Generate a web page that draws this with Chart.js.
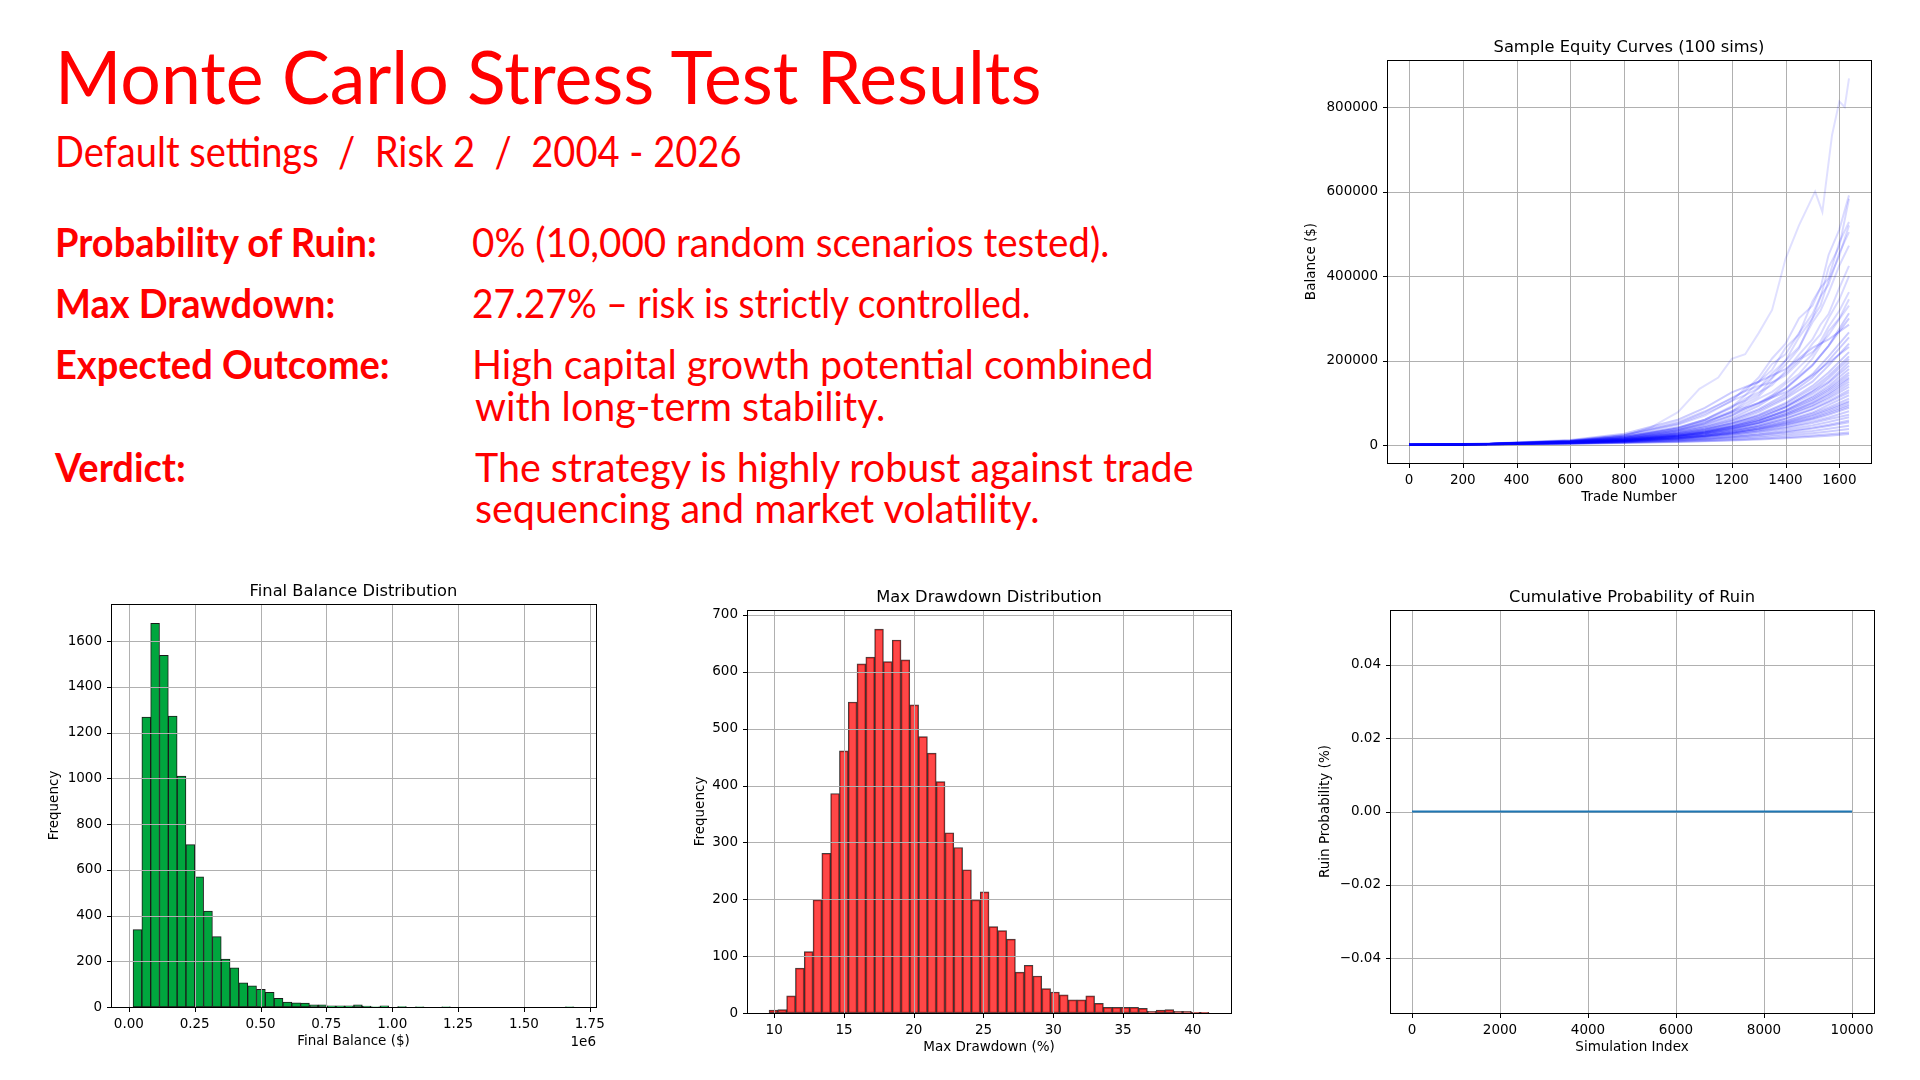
<!DOCTYPE html>
<html>
<head>
<meta charset="utf-8">
<script src="https://cdn.jsdelivr.net/npm/chart.js@4.4.1/dist/chart.umd.min.js"></script>
<style>
  html, body { margin: 0; padding: 0; background: #fff; }
  body { width: 1920px; height: 1080px; position: relative; overflow: hidden; font-family: Lato, sans-serif; color: #ff0000; }
  .t { position: absolute; white-space: nowrap; line-height: 1; transform-origin: 0 0; }
  #title { left: 55px; top: 39px; font-size: 74px; transform: scaleX(0.967); }
  #sub { left: 55px; top: 130px; font-size: 42px; transform: scaleX(0.906); }
  .lab { left: 55px; font-size: 40px; font-weight: 700; transform: scaleX(0.95); }
  .val { left: 472px; font-size: 40px; transform: scaleX(0.985); }
  .val2 { left: 475px; font-size: 40px; transform: scaleX(0.985); }
  canvas { position: absolute; }
</style>
</head>
<body>
<div class="t" id="title">Monte Carlo Stress Test Results</div>
<div class="t" id="sub">Default settings &nbsp;/&nbsp; Risk 2 &nbsp;/&nbsp; 2004 - 2026</div>

<div class="t lab" style="top:222px">Probability of Ruin:</div>
<div class="t val" style="top:222px; transform: scaleX(0.965)">0% (10,000 random scenarios tested).</div>
<div class="t lab" style="top:283px">Max Drawdown:</div>
<div class="t val" style="top:283px; transform: scaleX(0.928)">27.27% – risk is strictly controlled.</div>
<div class="t lab" style="top:344px">Expected Outcome:</div>
<div class="t val" style="top:344px">High capital growth potential combined</div>
<div class="t val2" style="top:386px">with long-term stability.</div>
<div class="t lab" style="top:447px">Verdict:</div>
<div class="t val2" style="top:447px">The strategy is highly robust against trade</div>
<div class="t val2" style="top:488px">sequencing and market volatility.</div>

<canvas id="equity"></canvas>
<canvas id="finalBal"></canvas>
<canvas id="drawdown"></canvas>
<canvas id="ruin"></canvas>

<script>
// ---- data ----
// the best curve, read in more detail (balance in thousands of $)
const TOP_TRADES = [0, 300, 600, 800, 900, 1000, 1080, 1150, 1200, 1250, 1300, 1350, 1400, 1450, 1510, 1537, 1573, 1600, 1620, 1636];
const TOP_K = [1, 2.5, 8, 22, 42, 78, 133, 160, 204, 215, 265, 320, 441, 520, 600, 552, 734, 813, 800, 868];

// upper curves, read at more trade numbers
const DETAIL_TRADES = [0, 300, 600, 800, 1000, 1100, 1200, 1250, 1300, 1350, 1400, 1450, 1500, 1530, 1560, 1600, 1636];
const EQUITY_DETAIL_K = [
  [1, 3, 10, 22, 48, 70, 105, 118, 150, 178, 230, 262, 340, 372, 450, 510, 591],
  [1, 2.5, 8, 16, 35, 52, 80, 104, 120, 158, 190, 228, 300, 350, 420, 470, 583],
  [1, 3.2, 11, 24, 52, 78, 112, 128, 160, 205, 240, 300, 330, 372, 395, 480, 528],
  [1, 2.8, 9, 19, 42, 60, 90, 118, 135, 160, 200, 255, 300, 330, 390, 448, 520],
  [1, 3.3, 10.5, 23, 50, 74, 104, 135, 150, 192, 215, 265, 310, 352, 380, 455, 504],
  [1, 3, 9, 19, 40, 60, 92, 105, 135, 170, 200, 232, 290, 318, 360, 425, 472],
  [1, 3, 9.5, 20, 42, 60, 88, 110, 125, 142, 175, 214, 250, 285, 310, 372, 424],
  [1, 3, 8.5, 18, 36, 52, 78, 98, 115, 148, 165, 196, 240, 262, 300, 345, 400],
  [1, 3.1, 9.4, 19.5, 40, 57, 80, 92, 110, 126, 150, 184, 215, 245, 280, 318, 362],
  [1, 2.8, 8.2, 17, 34, 48, 70, 88, 100, 118, 145, 168, 205, 236, 270, 300, 345],
  [1, 3.4, 11, 24, 55, 80, 110, 128, 140, 148, 170, 202, 220, 238, 260, 298, 330]
];

// the other sample curves
const TRADES = [0, 300, 600, 800, 1000, 1100, 1200, 1300, 1400, 1500, 1560, 1636];
const EQUITY_K = [
  [1, 2.9, 8.4, 17, 35, 50, 70, 98, 135, 190, 235, 312],
  [1, 2.8, 8, 16, 32, 45, 64, 93, 133, 188, 235, 300],
  [1, 3.6, 12, 27, 60, 88, 125, 150, 180, 230, 250, 285],
  [1, 2.8, 7.9, 15.6, 31, 43, 60, 85, 120, 168, 210, 267],
  [1, 2.8, 7.7, 15, 30, 42, 58, 82, 114, 160, 200, 255],
  [1, 2.7, 7.4, 14.5, 28, 39, 55, 78, 110, 150, 188, 240],
  [1, 3.2, 9.5, 19, 38, 55, 76, 100, 125, 165, 195, 232],
  [1, 2.7, 7.2, 14, 27, 37, 52, 72, 100, 140, 172, 220],
  [1, 2.66, 7.1, 13.7, 26, 36, 50, 70, 97, 134, 164, 210],
  [1, 2.4, 6.3, 12, 23, 32, 45, 64, 90, 128, 158, 204],
  [1, 2.9, 7.8, 15, 28, 38, 51, 68, 92, 126, 150, 196],
  [1, 2.6, 6.8, 12.9, 24.5, 33.8, 46.5, 64, 89, 121, 147, 188],
  [1, 2.5, 6.4, 12, 22, 30, 42, 58, 82, 115, 140, 180],
  [1, 2.57, 6.6, 12.4, 23.2, 31.8, 43.6, 60, 82, 112, 135, 172],
  [1, 2.8, 7.2, 13.5, 25, 33, 44, 59, 80, 108, 131, 166],
  [1, 2.53, 6.45, 12, 22.2, 30.3, 41.3, 56.4, 77, 105, 127, 160],
  [1, 2.4, 6, 11, 20, 27.5, 38, 53, 73, 100, 122, 156],
  [1, 2.5, 6.3, 11.6, 21.3, 29, 39.4, 53.5, 73, 99, 119, 150],
  [1, 2.6, 6.6, 12, 22, 29.5, 39, 52, 70, 94, 114, 144],
  [1, 2.46, 6.1, 11.1, 20.3, 27.5, 37.2, 50.5, 68, 92, 110, 138],
  [1, 2.3, 5.6, 10, 18.5, 25, 34, 46, 63, 86, 104, 130],
  [1, 2.42, 5.9, 10.6, 19.1, 25.7, 34.5, 46.5, 62.6, 84, 101, 125],
  [1, 2.6, 6.2, 11, 19.5, 25.5, 33.5, 44, 58, 77, 95, 118],
  [1, 2.37, 5.6, 9.95, 17.7, 23.6, 31.4, 42, 56, 74.4, 89, 110],
  [1, 2.2, 5.2, 9.2, 16.5, 22, 29.5, 40, 53.5, 71, 85, 104],
  [1, 2.33, 5.4, 9.5, 16.8, 22.2, 29.4, 39.2, 52, 68.8, 81.9, 101],
  [1, 2.4, 5.6, 9.8, 17, 22.3, 29, 38, 50, 65, 78, 96],
  [1, 2.29, 5.26, 9.1, 15.8, 20.9, 27.5, 36.4, 48, 63, 74.7, 92],
  [1, 2.27, 5.17, 8.9, 15.4, 20.3, 26.6, 35.1, 46.1, 60.6, 71.6, 88],
  [1, 2.23, 5, 8.5, 14.5, 19, 24.8, 32.5, 42.5, 55.6, 65.4, 80],
  [1, 2.3, 5.1, 8.6, 14.6, 19, 24.5, 31.5, 40.5, 52, 61, 72],
  [1, 2.15, 4.65, 7.8, 12.9, 16.7, 21.6, 28, 36.2, 46.7, 54.6, 66],
  [1, 2.1, 4.44, 7.3, 11.9, 15.3, 19.6, 25.2, 32.3, 41.5, 48.3, 58],
  [1, 2.07, 4.33, 7, 11.4, 14.6, 18.6, 23.8, 30.5, 39, 45.2, 54],
  [1, 2.01, 4.08, 6.5, 10.4, 13.1, 16.6, 21, 26.6, 33.6, 38.7, 46],
  [1, 1.95, 3.8, 5.9, 9.2, 11.5, 14.4, 18, 22.5, 28.1, 32.2, 38],
  [1, 1.86, 3.48, 5.3, 8, 9.8, 12.1, 14.9, 18.4, 22.6, 25.6, 30],
  [1, 1.81, 3.3, 4.9, 7.3, 8.9, 10.9, 13.4, 16.3, 19.9, 22.4, 26]
];
const EQ_X_TICKS = [0, 200, 400, 600, 800, 1000, 1200, 1400, 1600];
const EQ_Y_TICKS = [0, 200000, 400000, 600000, 800000];

// final balance histogram (50 bins)
const FB_BIN_START = 16000;
const FB_BIN_WIDTH = 33480;
const FB_COUNTS = [338, 1268, 1678, 1538, 1272, 1010, 710, 569, 419, 308,
  210, 171, 106, 93, 77, 64, 38, 22, 18, 17,
  9, 9, 5, 5, 5, 9, 4, 1, 5, 0,
  2, 0, 1, 0, 0, 1, 0, 0, 0, 0,
  0, 0, 0, 0, 0, 0, 0, 0, 0, 1];
const FB_X_TICKS = [0, 250000, 500000, 750000, 1000000, 1250000, 1500000, 1750000];
const FB_Y_TICKS = [0, 200, 400, 600, 800, 1000, 1200, 1400, 1600];

// max drawdown histogram (50 bins)
const DD_BIN_START = 9.63;
const DD_BIN_WIDTH = 0.6306;
const DD_COUNTS = [5, 6, 30, 79, 108, 199, 281, 386, 461, 547,
  614, 626, 675, 618, 656, 621, 542, 486, 457, 407,
  317, 291, 252, 199, 213, 152, 145, 130, 72, 84,
  65, 43, 37, 32, 23, 23, 30, 17, 10, 10,
  10, 10, 8, 3, 5, 6, 3, 3, 1, 1];
const DD_X_TICKS = [10, 15, 20, 25, 30, 35, 40];
const DD_Y_TICKS = [0, 100, 200, 300, 400, 500, 600, 700];

// cumulative probability of ruin
const RUIN_INDEX = [0, 1000, 2000, 3000, 4000, 5000, 6000, 7000, 8000, 9000, 9999];
const RUIN_PROB = [0, 0, 0, 0, 0, 0, 0, 0, 0, 0, 0];
const RUIN_X_TICKS = [0, 2000, 4000, 6000, 8000, 10000];
const RUIN_Y_TICKS = [-0.04, -0.02, 0, 0.02, 0.04];

// ---- matplotlib-like axes ----
const MPL_FONT = 'DejaVu Sans';
const TITLE_H = 30;
const XAXIS_H = 43;
const PAD_RIGHT = 24;

function drawGrid(chart) {
  const { ctx, chartArea: ca, scales: { x, y } } = chart;
  ctx.save();
  ctx.beginPath();
  ctx.rect(ca.left, ca.top, ca.width, ca.height);
  ctx.clip();
  ctx.strokeStyle = '#b0b0b0';
  ctx.lineWidth = 1;
  ctx.beginPath();
  x.ticks.forEach(t => {
    const px = Math.round(x.getPixelForValue(t.value)) + 0.5;
    ctx.moveTo(px, ca.top); ctx.lineTo(px, ca.bottom);
  });
  y.ticks.forEach(t => {
    const py = Math.round(y.getPixelForValue(t.value)) + 0.5;
    ctx.moveTo(ca.left, py); ctx.lineTo(ca.right, py);
  });
  ctx.stroke();
  ctx.restore();
}

function drawFrame(chart, opts) {
  const { ctx, chartArea: ca, scales: { x, y } } = chart;
  const l = Math.round(ca.left) + 0.5, r = Math.round(ca.right) + 0.5;
  const t = Math.round(ca.top) + 0.5, b = Math.round(ca.bottom) + 0.5;
  ctx.save();
  ctx.strokeStyle = '#000';
  ctx.lineWidth = 1;
  ctx.strokeRect(l, t, r - l, b - t);
  ctx.beginPath();
  x.ticks.forEach(tk => {
    const px = Math.round(x.getPixelForValue(tk.value)) + 0.5;
    ctx.moveTo(px, b); ctx.lineTo(px, b + 4.5);
  });
  y.ticks.forEach(tk => {
    const py = Math.round(y.getPixelForValue(tk.value)) + 0.5;
    ctx.moveTo(l, py); ctx.lineTo(l - 4.5, py);
  });
  ctx.stroke();
  ctx.fillStyle = '#000';
  ctx.textBaseline = 'middle';
  // axes title, centred over the plot area like matplotlib
  ctx.font = '16.3px "' + MPL_FONT + '"';
  ctx.textAlign = 'center';
  ctx.fillText(opts.title, (ca.left + ca.right) / 2, ca.top - 12.5);
  if (opts.offsetText) {
    ctx.font = '13.5px "' + MPL_FONT + '"';
    ctx.textAlign = 'right';
    ctx.fillText(opts.offsetText, ca.right, ca.bottom + 35);
  }
  ctx.restore();
}

const mplAxes = {
  id: 'mplAxes',
  beforeDatasetsDraw(chart, args, opts) { if (!opts.gridOnTop) drawGrid(chart); },
  afterDatasetsDraw(chart, args, opts) {
    if (opts.gridOnTop) drawGrid(chart);
    drawFrame(chart, opts);
  }
};

function axis(min, max, tickValues, fmt, label, size) {
  return {
    type: 'linear', min: min, max: max, offset: false,
    grid: { display: false, drawTicks: false }, border: { display: false },
    afterBuildTicks: s => { s.ticks = tickValues.map(v => ({ value: v })); },
    afterFit: s => { if (s.isHorizontal()) s.height = size; else s.width = size; },
    ticks: { color: '#000', font: { family: MPL_FONT, size: 13.5 }, padding: 9,
      autoSkip: false, maxRotation: 0, callback: fmt },
    title: { display: true, text: label, color: '#000', font: { family: MPL_FONT, size: 13.5 }, padding: 0 }
  };
}

function place(id, rect, yw) {
  const c = document.getElementById(id);
  const w = yw + (rect.r - rect.l) + PAD_RIGHT;
  const h = TITLE_H + (rect.b - rect.t) + XAXIS_H;
  c.width = w; c.height = h;
  c.style.left = (rect.l - yw) + 'px';
  c.style.top = (rect.t - TITLE_H) + 'px';
  return c;
}

function baseOptions(xAxis, yAxis, axOpts) {
  return {
    responsive: false, animation: false, devicePixelRatio: 1,
    layout: { padding: { left: 0, right: PAD_RIGHT, top: TITLE_H, bottom: 0 } },
    plugins: { legend: { display: false }, tooltip: { enabled: false }, title: { display: false }, mplAxes: axOpts },
    scales: { x: xAxis, y: yAxis }
  };
}

const plain = v => String(v);
const minus = v => (v < 0 ? '\u2212' + Math.abs(v).toFixed(2) : v.toFixed(2));
const EQ_LINE = { borderColor: 'rgba(0, 0, 255, 0.2)', borderWidth: 2, pointRadius: 0, tension: 0, fill: false };

function curve(trades, values, extra) {
  return Object.assign({ data: trades.map((t, j) => ({ x: t, y: values[j] * 1000 })) }, EQ_LINE, extra || {});
}

// Sample equity curves
new Chart(place('equity', { l: 1387, t: 60, r: 1871, b: 463 }, 84), {
  type: 'line',
  data: {
    datasets: [curve(TOP_TRADES, TOP_K, { borderColor: 'rgba(0, 0, 255, 0.12)' })]
      .concat(EQUITY_DETAIL_K.map(v => curve(DETAIL_TRADES, v, { borderColor: 'rgba(0, 0, 255, 0.15)' })))
      .concat(EQUITY_K.map(v => curve(TRADES, v)))
  },
  options: baseOptions(
    axis(-81.8, 1717.8, EQ_X_TICKS, plain, 'Trade Number', XAXIS_H),
    axis(-42350, 911350, EQ_Y_TICKS, plain, 'Balance ($)', 84),
    { gridOnTop: false, title: 'Sample Equity Curves (100 sims)' }),
  plugins: [mplAxes]
});

// Final balance distribution
new Chart(place('finalBal', { l: 111, t: 604, r: 596, b: 1007 }, 65), {
  type: 'bar',
  data: {
    datasets: [{
      data: FB_COUNTS.map((c, i) => ({ x: FB_BIN_START + (i + 0.5) * FB_BIN_WIDTH, y: c })),
      backgroundColor: '#00a63e', borderColor: '#1a1a1a', borderWidth: 1,
      borderSkipped: false, barPercentage: 1, categoryPercentage: 1
    }]
  },
  options: baseOptions(
    axis(-67700, 1773700, FB_X_TICKS, v => (v / 1e6).toFixed(2), 'Final Balance ($)', XAXIS_H),
    axis(0, 1762, FB_Y_TICKS, plain, 'Frequency', 65),
    { gridOnTop: true, offsetText: '1e6', title: 'Final Balance Distribution' }),
  plugins: [mplAxes]
});

// Max drawdown distribution
new Chart(place('drawdown', { l: 747, t: 610, r: 1231, b: 1013 }, 55), {
  type: 'bar',
  data: {
    datasets: [{
      data: DD_COUNTS.map((c, i) => ({ x: DD_BIN_START + (i + 0.5) * DD_BIN_WIDTH, y: c })),
      backgroundColor: 'rgba(255, 0, 0, 0.72)', borderColor: 'rgba(0, 0, 0, 0.75)', borderWidth: 1,
      borderSkipped: false, barPercentage: 1, categoryPercentage: 1
    }]
  },
  options: baseOptions(
    axis(8.05, 42.74, DD_X_TICKS, plain, 'Max Drawdown (%)', XAXIS_H),
    axis(0, 708.75, DD_Y_TICKS, plain, 'Frequency', 55),
    { gridOnTop: true, title: 'Max Drawdown Distribution' }),
  plugins: [mplAxes]
});

// Cumulative probability of ruin
new Chart(place('ruin', { l: 1390, t: 610, r: 1874, b: 1013 }, 73), {
  type: 'line',
  data: {
    datasets: [{
      data: RUIN_INDEX.map((s, i) => ({ x: s, y: RUIN_PROB[i] })),
      borderColor: '#1f77b4', borderWidth: 2.2, pointRadius: 0, tension: 0, fill: false
    }]
  },
  options: baseOptions(
    axis(-499.95, 10498.95, RUIN_X_TICKS, plain, 'Simulation Index', XAXIS_H),
    axis(-0.055, 0.055, RUIN_Y_TICKS, minus, 'Ruin Probability (%)', 73),
    { gridOnTop: false, title: 'Cumulative Probability of Ruin' }),
  plugins: [mplAxes]
});
</script>
</body>
</html>
